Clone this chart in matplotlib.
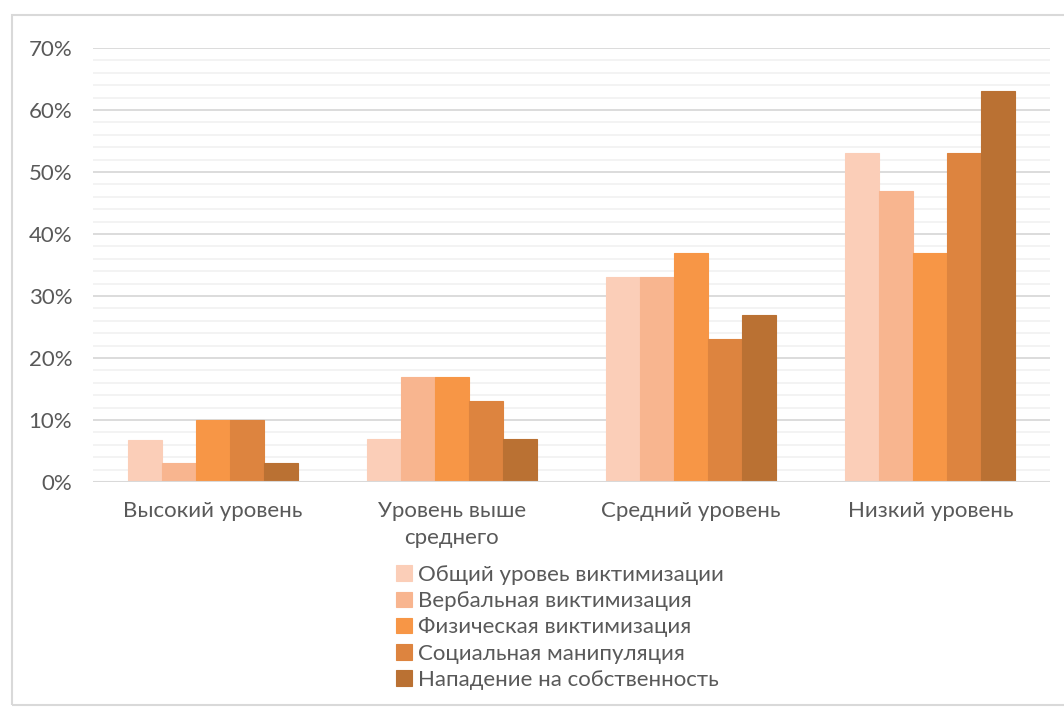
import numpy as np
import matplotlib.pyplot as plt
from matplotlib.ticker import MultipleLocator, PercentFormatter

plt.rcParams['font.family'] = ['Lato', 'DejaVu Sans']

categories = ["Высокий уровень", "Уровень выше\nсреднего", "Средний уровень", "Низкий уровень"]
series_names = ["Общий уровеь виктимизации", "Вербальная виктимизация",
                "Физическая виктимизация", "Социальная манипуляция",
                "Нападение на собственность"]
obshchiy = [6.7, 7, 33, 53]
verbalnaya = [3, 17, 33, 47]
fizicheskaya = [10, 17, 37, 37]
socialnaya = [10, 13, 23, 53]
napadenie = [3, 7, 27, 63]
colors = ["#FBCEB8", "#F8B58F", "#F79646", "#DD843F", "#BA7133"]

series = [obshchiy, verbalnaya, fizicheskaya, socialnaya, napadenie]

fig = plt.figure(figsize=(10.64, 7.08), dpi=100)
# рамка вокруг диаграммы
fig.patches.append(plt.Rectangle((12/1064, 3/708), 1.1, 690/708, transform=fig.transFigure,
                                 fill=False, edgecolor="#D9D9D9", linewidth=1.5))
ax = fig.add_axes([93/1064, 1-482/708, (1050-93)/1064, (482-48)/708])

x = np.arange(len(categories))
w = 0.142
for i, (vals, name, c) in enumerate(zip(series, series_names, colors)):
    ax.bar(x + (i - 2) * w, vals, width=w, color=c, label=name,
           edgecolor=c, linewidth=0.8, zorder=3)

ax.set_xlim(-0.5, len(categories) - 0.5)
ax.set_ylim(0, 70)
ax.yaxis.set_major_locator(MultipleLocator(10))
ax.yaxis.set_minor_locator(MultipleLocator(2))
ax.yaxis.set_major_formatter(PercentFormatter(decimals=0))
ax.grid(axis='y', which='major', color='#D9D9D9', linewidth=1.3, zorder=0)
ax.grid(axis='y', which='minor', color='#F2F2F2', linewidth=1.3, zorder=0)
for s in ax.spines.values():
    s.set_visible(False)
ax.axhline(0, color='#D9D9D9', linewidth=1.5, zorder=4)
ax.tick_params(axis='both', which='both', length=0, labelsize=16, labelcolor='#595959')
ax.tick_params(axis='y', pad=15)
ax.tick_params(axis='x', pad=14)
ax.set_xticks(x)
ax.set_xticklabels(categories, linespacing=1.4)

leg = ax.legend(loc='upper left', bbox_to_anchor=(396/1064, 1-565/708), bbox_transform=fig.transFigure,
                frameon=False, fontsize=16, handlelength=0.7, handleheight=0.7,
                handletextpad=0.3, labelspacing=0.28, borderaxespad=0, borderpad=0)
for t in leg.get_texts():
    t.set_color('#595959')

fig.savefig("out.png", dpi=100)
